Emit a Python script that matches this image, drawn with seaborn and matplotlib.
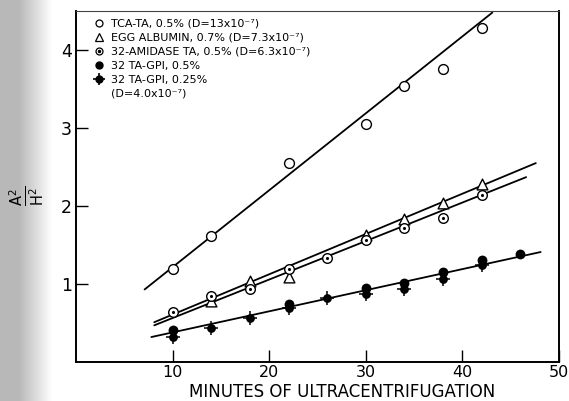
import numpy as np
import pandas as pd
import seaborn as sns
import matplotlib.pyplot as plt
from matplotlib.lines import Line2D

sns.set_style("ticks")
plt.rcParams["font.family"] = ["DejaVu Sans"]
plt.rcParams["mathtext.fontset"] = "dejavusans"
plt.rcParams["text.color"] = "black"
plt.rcParams["axes.labelcolor"] = "black"

# === DONNÉES ===
tca_min = [10, 14, 22, 30, 34, 38, 42]
tca_ratio = [1.19, 1.62, 2.55, 3.05, 3.54, 3.76, 4.28]

egg_min = [14, 18, 22, 30, 34, 38, 42]
egg_ratio = [0.78, 1.04, 1.09, 1.63, 1.83, 2.04, 2.28]

amid_min = [10, 14, 18, 22, 26, 30, 34, 38, 42]
amid_ratio = [0.64, 0.85, 0.94, 1.19, 1.33, 1.57, 1.72, 1.85, 2.14]

gpi05_min = [10, 22, 30, 34, 38, 42, 46]
gpi05_ratio = [0.41, 0.74, 0.95, 1.01, 1.16, 1.31, 1.38]

gpi025_min = [10, 14, 18, 22, 26, 30, 34, 38, 42]
gpi025_ratio = [0.32, 0.43, 0.56, 0.69, 0.82, 0.87, 0.93, 1.06, 1.25]

# droites tracées à la main (extrémités)
tca_line_min = [7.1, 43.1]
tca_line_ratio = [0.93, 4.48]
egg_line_min = [8.1, 47.6]
egg_line_ratio = [0.51, 2.55]
amid_line_min = [8.1, 46.6]
amid_line_ratio = [0.47, 2.37]
gpi_line_min = [7.8, 48.1]
gpi_line_ratio = [0.32, 1.41]

labels = [
    "TCA-TA, 0.5% (D=13x10⁻⁷)",
    "EGG ALBUMIN, 0.7% (D=7.3x10⁻⁷)",
    "32-AMIDASE TA, 0.5% (D=6.3x10⁻⁷)",
    "32 TA-GPI, 0.5%",
    "32 TA-GPI, 0.25%",
    "(D=4.0x10⁻⁷)",
]

# === FIGURE ===
fig = plt.figure(figsize=(5.69, 4.01), dpi=100)

# bande grise du scan à gauche
bg = fig.add_axes([0, 0, 52 / 569, 1], zorder=-5)
shade = np.concatenate([np.full(18, 0.72), np.linspace(0.72, 1.0, 34)])
bg.imshow(shade[None, :], cmap="gray", vmin=0, vmax=1, aspect="auto",
          extent=[0, 1, 0, 1])
bg.axis("off")

ax = fig.add_axes([76 / 569, 1 - 362 / 401, 483 / 569, 351 / 401])
ax.set_facecolor("none")

for xs, ys in [(tca_line_min, tca_line_ratio), (egg_line_min, egg_line_ratio),
               (amid_line_min, amid_line_ratio), (gpi_line_min, gpi_line_ratio)]:
    sns.lineplot(x=xs, y=ys, color="black", lw=1.3, ax=ax, zorder=2)

open_kw = dict(facecolor="white", edgecolor="black", linewidth=1.0, zorder=3)
sns.scatterplot(x=tca_min, y=tca_ratio, marker="o", s=50, ax=ax, **open_kw)
sns.scatterplot(x=egg_min, y=egg_ratio, marker="^", s=60, ax=ax, **open_kw)
sns.scatterplot(x=amid_min, y=amid_ratio, marker="o", s=48, ax=ax, **open_kw)
sns.scatterplot(x=amid_min, y=amid_ratio, marker="o", s=5, color="black",
                linewidth=0, ax=ax, zorder=4)
sns.scatterplot(x=gpi05_min, y=gpi05_ratio, marker="o", s=50, color="black",
                linewidth=0, ax=ax, zorder=3)
sns.scatterplot(x=gpi025_min, y=gpi025_ratio, marker="o", s=40, color="black",
                linewidth=0, ax=ax, zorder=3)
sns.scatterplot(x=gpi025_min, y=gpi025_ratio, marker="+", s=110, color="black",
                linewidth=1.1, ax=ax, zorder=3)

ax.set_xlim(0, 50)
ax.set_ylim(0, 4.5)
ax.set_xticks([10, 20, 30, 40, 50])
ax.set_yticks([1, 2, 3, 4])
ax.tick_params(direction="in", length=8.5, width=1.0, colors="black")
ax.tick_params(axis="x", labelsize=11.5, pad=2)
ax.tick_params(axis="y", labelsize=12.5, pad=3)
for side in ["left", "bottom", "right"]:
    ax.spines[side].set_linewidth(1.4)
    ax.spines[side].set_color("black")
ax.spines["top"].set_linewidth(0.8)
ax.spines["top"].set_color("#444444")

ax.set_xlabel("MINUTES OF ULTRACENTRIFUGATION", fontsize=12)
ax.xaxis.set_label_coords(0.55, -0.061)
ax.set_ylabel(r"$\frac{\mathrm{A}^2}{\mathrm{H}^2}$", fontsize=15, rotation=90)
ax.yaxis.set_label_coords(-0.062, 0.473)

# légende
h_tca = Line2D([], [], ls="", marker="o", ms=5, mfc="white", mec="black", mew=0.9)
h_egg = Line2D([], [], ls="", marker="^", ms=5.5, mfc="white", mec="black", mew=0.9)
h_am = (Line2D([], [], ls="", marker="o", ms=5, mfc="white", mec="black", mew=0.9),
        Line2D([], [], ls="", marker="o", ms=1.5, mfc="black", mec="black"))
h_g05 = Line2D([], [], ls="", marker="o", ms=5, mfc="black", mec="black")
h_g025 = (Line2D([], [], ls="", marker="o", ms=5, mfc="black", mec="black"),
          Line2D([], [], ls="", marker="+", ms=9, mec="black", mew=1.2))
h_blank = Line2D([], [], ls="", marker="")
ax.legend([h_tca, h_egg, h_am, h_g05, h_g025, h_blank], labels,
          loc="upper left", bbox_to_anchor=(0.028, 0.99), frameon=False,
          fontsize=8, handlelength=0.9, handletextpad=0.6,
          labelspacing=0.36, borderaxespad=0.2, borderpad=0.2)

fig.savefig("out.png", dpi=100)
